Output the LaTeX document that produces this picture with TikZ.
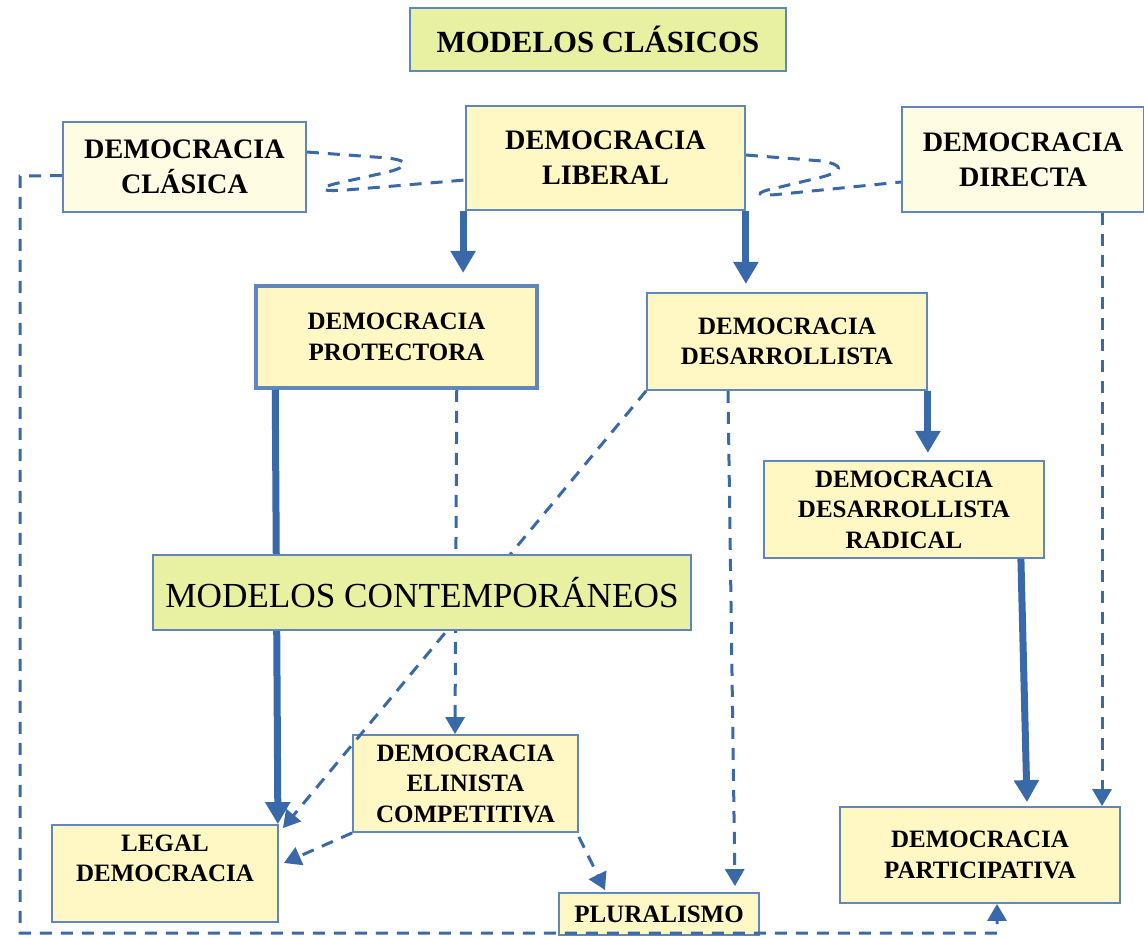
\documentclass[tikz,border=0pt]{standalone}
\usepackage{fontspec}
\setmainfont{Liberation Serif}
\usetikzlibrary{arrows.meta}
\definecolor{arrowblue}{RGB}{58,105,170}
\definecolor{frameblue}{RGB}{95,135,190}
\definecolor{cream}{RGB}{255,247,196}
\definecolor{palecream}{RGB}{255,252,228}
\definecolor{lime}{RGB}{232,241,162}
\newcommand\topfont{\fontsize{14.1}{17.5}\selectfont\bfseries}
\newcommand\midfont{\fontsize{12.5}{15.2}\selectfont\bfseries}
\begin{document}
\begin{tikzpicture}[x=0.5pt,y=-0.5pt,
	model/.style={draw=frameblue,line width=0.9pt,fill=cream,align=center,inner sep=0pt,font=\midfont},
	classic/.style={model,fill=palecream,font=\topfont},
	title/.style={model,fill=lime},
	heavy/.style={arrowblue,line width=3.5pt,-{Triangle[width=12pt,length=11pt]}},
	link/.style={arrowblue,line width=1.5pt,dash pattern=on 6pt off 4.5pt},
	linkarrow/.style={link,-{Triangle[width=9.5pt,length=8.5pt]}}]
	\useasboundingbox (0,0) rectangle (1144,937);

	\node[title,font=\fontsize{15.4}{18}\selectfont\bfseries,minimum width=188pt,minimum height=31.5pt] at (598,39.5) (clasicos) {MODELOS CLÁSICOS};
	\node[classic,minimum width=121.5pt,minimum height=45pt] at (184.5,167) (clasica) {DEMOCRACIA\\CLÁSICA};
	\node[model,font=\topfont,minimum width=139.5pt,minimum height=52pt] at (605.5,158) (liberal) {DEMOCRACIA\\LIBERAL};
	\node[classic,minimum width=121pt,minimum height=52.5pt] at (1023,159.5) (directa) {DEMOCRACIA\\DIRECTA};
	\node[model,line width=1.75pt,minimum width=140.5pt,minimum height=51pt] at (396.5,337) (protectora) {DEMOCRACIA\\PROTECTORA};
	\node[model,minimum width=140pt,minimum height=48.5pt] at (787,341.5) (desarrollista) {DEMOCRACIA\\DESARROLLISTA};
	\node[model,minimum width=140pt,minimum height=48.5pt] at (904,509.5) (radical) {DEMOCRACIA\\DESARROLLISTA\\RADICAL};
	\node[model,minimum width=112.5pt,minimum height=48.5pt] at (465.5,783.5) (elinista) {DEMOCRACIA\\ELINISTA\\COMPETITIVA};
	\node[model,minimum width=113pt,minimum height=48.5pt] at (165,873.5) (legal) {LEGAL\\DEMOCRACIA\\};
	\node[model,minimum width=100pt,minimum height=21pt] at (659,914) (pluralismo) {PLURALISMO};
	\node[model,minimum width=140pt,minimum height=48pt] at (980,855) (participativa) {DEMOCRACIA\\PARTICIPATIVA};

	\draw[link]	([yshift=7.5pt]clasica.east) -- (388,158) .. controls (410,161) and (410,166) .. (388,172) -- (343,182) .. controls (314,188) and (318,192) .. (346,190) -- ([yshift=-11pt]liberal.west);
	\draw[link]	([yshift=1.5pt]liberal.east) -- (822,161) .. controls (844,165) and (844,171) .. (822,177) -- (776,188) .. controls (752,193) and (756,197) .. (782,194) -- ([yshift=-11.25pt]directa.west);
	\draw[linkarrow]	([yshift=-4.25pt]clasica.west) -- (20,176) -- (20,933) -- (997,933) -- ([xshift=8.5pt]participativa.south);

	\draw[heavy]	([xshift=-1pt]liberal.south west) -- ++(0,62);
	\draw[heavy]	(liberal.south east) -- ++(0,73);
	\draw[heavy]	(desarrollista.south east) -- ++(0,62);
	\draw[heavy]	([xshift=10.5pt]protectora.south west) -- ([xshift=-0.5pt]legal.north east);
	\draw[heavy]	([xshift=-12pt]radical.south east) -- ([xshift=23.5pt,yshift=2pt]participativa.north);

	\draw[linkarrow]	([xshift=-41pt]protectora.south east) -- ([xshift=-5.25pt]elinista.north);
	\draw[linkarrow]	(desarrollista.south west) -- ([xshift=2pt,yshift=-2pt]legal.north east);
	\draw[linkarrow]	([xshift=-29.5pt]desarrollista.south) -- ([xshift=38pt,yshift=3pt]pluralismo.north);
	\draw[linkarrow]	([xshift=39.5pt]directa.south) -- ([xshift=61pt]participativa.north);
	\draw[linkarrow]	(elinista.south west) -- ([xshift=2.5pt,yshift=5.25pt]legal.east);
	\draw[linkarrow]	([yshift=-2pt]elinista.south east) -- ([xshift=-27pt,yshift=1pt]pluralismo.north);

	\node[title,font=\fontsize{17.6}{20}\selectfont,minimum width=269pt,minimum height=37.5pt] at (422,592.5) (contemporaneos) {MODELOS CONTEMPORÁNEOS};
\end{tikzpicture}
\end{document}
